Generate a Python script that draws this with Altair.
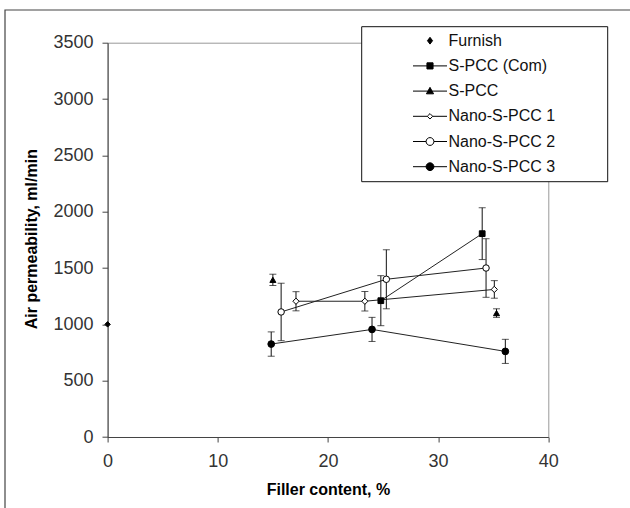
import altair as alt
import pandas as pd

# ---------------- data ----------------
series_names = ["Furnish", "S-PCC (Com)", "S-PCC", "Nano-S-PCC 1", "Nano-S-PCC 2", "Nano-S-PCC 3"]

furnish_x = [0.0]
furnish_y = [1000]
furnish_err = [0]

spcc_com_x = [24.8, 34.0]
spcc_com_y = [1210, 1805]
spcc_com_err = [222, 230]

spcc_x = [15.0, 35.3]
spcc_y = [1395, 1100]
spcc_err = [50, 38]

nano1_x = [17.1, 23.35, 35.1]
nano1_y = [1205, 1205, 1310]
nano1_err = [85, 86, 78]

nano2_x = [15.75, 25.3, 34.35]
nano2_y = [1110, 1400, 1500]
nano2_err = [255, 262, 260]

nano3_x = [14.85, 24.0, 36.1]
nano3_y = [825, 955, 760]
nano3_err = [108, 107, 107]

connected_series = ["S-PCC (Com)", "Nano-S-PCC 1", "Nano-S-PCC 2", "Nano-S-PCC 3"]

x_ticks = [0, 10, 20, 30, 40]
y_ticks = [0, 500, 1000, 1500, 2000, 2500, 3000, 3500]

# ---------------- styling ----------------
marker_shapes = ["diamond", "square", "triangle-up", "diamond", "circle", "circle"]
marker_sizes = [30, 45, 40, 30, 105, 100]
marker_fills = ["black", "black", "black", "white", "white", "black"]
marker_strokes = ["black"] * 6

legend_paths = [
    "M0,-0.2L0.15,0L0,0.2L-0.15,0Z",
    "M-1,0H1M-0.18,-0.18H0.18V0.18H-0.18Z",
    "M-1,0H1M0,-0.22L0.21,0.16H-0.21Z",
    "M-1,0H-0.16M0.16,0H1M0,-0.16L0.16,0L0,0.16L-0.16,0Z",
    "M-1,0H-0.23M0.23,0H1M0.23,0A0.23,0.23 0 1,1 -0.23,0A0.23,0.23 0 1,1 0.23,0Z",
    "M-1,0H1M0.23,0A0.23,0.23 0 1,1 -0.23,0A0.23,0.23 0 1,1 0.23,0Z",
]

FONT = "Liberation Sans"

rows = []
for name, xs, ys, es in [
    ("Furnish", furnish_x, furnish_y, furnish_err),
    ("S-PCC (Com)", spcc_com_x, spcc_com_y, spcc_com_err),
    ("S-PCC", spcc_x, spcc_y, spcc_err),
    ("Nano-S-PCC 1", nano1_x, nano1_y, nano1_err),
    ("Nano-S-PCC 2", nano2_x, nano2_y, nano2_err),
    ("Nano-S-PCC 3", nano3_x, nano3_y, nano3_err),
]:
    for x, y, e in zip(xs, ys, es):
        rows.append({"series": name, "x": x, "y": y, "lo": y - e, "hi": y + e})
df = pd.DataFrame(rows)
df_err = df[df["series"] != "Furnish"]
df_line = df[df["series"].isin(connected_series)]

x_scale = alt.Scale(domain=[0, 40], nice=False, zero=False)
y_scale = alt.Scale(domain=[0, 3500], nice=False)

x_enc = alt.X(
    "x:Q",
    scale=x_scale,
    axis=alt.Axis(
        values=x_ticks, grid=False, tickSize=5, labelPadding=10, labelFontSize=18,
        labelFont=FONT, labelColor="#333", domainColor="#444", tickColor="#444",
        title="Filler content, %", titleFont=FONT, titleFontSize=16, titleFontWeight="bold",
        titleColor="#000", titleBaseline="alphabetic", titleY=57.5, labelFlush=False,
        format="d",
    ),
)
y_enc = alt.Y(
    "y:Q",
    scale=y_scale,
    axis=alt.Axis(
        values=y_ticks, grid=False, tickSize=5.6, labelPadding=9, labelFontSize=18,
        labelFont=FONT, labelColor="#333", domainColor="#444", tickColor="#444",
        title="Air permeability, ml/min", titleFont=FONT, titleFontSize=16,
        titleFontWeight="bold", titleColor="#000", titleAngle=270,
        titleBaseline="alphabetic", titleX=-71.6, titleY=196, labelFlush=False,
        format="d",
    ),
)

one = pd.DataFrame({"a": [0]})

frame = alt.Chart(one).mark_rect(fill="transparent", stroke="#444", strokeWidth=1.2).encode(
    x=alt.value(-102.6), x2=alt.value(540), y=alt.value(-32.7), y2=alt.value(480)
)

lines = alt.Chart(df_line).mark_line(color="#222", strokeWidth=1).encode(
    x=x_enc, y=y_enc, detail="series:N", order="x:Q"
)

err_rules = alt.Chart(df_err).mark_rule(color="#111", strokeWidth=1).encode(
    x=alt.X("x:Q", scale=x_scale), y=alt.Y("lo:Q", scale=y_scale), y2="hi:Q"
)
cap_lo = alt.Chart(df_err).mark_tick(color="#111", orient="horizontal", size=7, thickness=1).encode(
    x=alt.X("x:Q", scale=x_scale), y=alt.Y("lo:Q", scale=y_scale)
)
cap_hi = alt.Chart(df_err).mark_tick(color="#111", orient="horizontal", size=7, thickness=1).encode(
    x=alt.X("x:Q", scale=x_scale), y=alt.Y("hi:Q", scale=y_scale)
)

points = alt.Chart(df).mark_point(stroke="black", strokeWidth=1, opacity=1).encode(
    x=alt.X("x:Q", scale=x_scale),
    y=alt.Y("y:Q", scale=y_scale),
    shape=alt.Shape("series:N", scale=alt.Scale(domain=series_names, range=marker_shapes), legend=None),
    fill=alt.Fill("series:N", scale=alt.Scale(domain=series_names, range=marker_fills), legend=None),
    size=alt.Size("series:N", scale=alt.Scale(domain=series_names, range=marker_sizes), legend=None),
)

legend_box = alt.Chart(one).mark_rect(fill="white", stroke="#111", strokeWidth=1).encode(
    x=alt.value(254.1), x2=alt.value(500.1), y=alt.value(-16), y2=alt.value(139)
)

leg = alt.Legend(
    title=None, orient="none", legendX=304.9, legendY=-12, padding=0,
    symbolSize=1156, symbolStrokeWidth=1, symbolStrokeColor="black", symbolOffset=0,
    symbolOpacity=1, clipHeight=20, rowPadding=5.2, labelOffset=1, labelFont=FONT,
    labelFontSize=16, labelColor="#111", labelLimit=300,
)

legend_layer = alt.Chart(df).mark_point(strokeWidth=1, opacity=1).encode(
    x=alt.X("x:Q", scale=x_scale),
    y=alt.Y("y:Q", scale=y_scale),
    shape=alt.Shape("series:N", scale=alt.Scale(domain=series_names, range=legend_paths), legend=leg),
    fill=alt.Fill("series:N", scale=alt.Scale(domain=series_names, range=marker_fills), legend=leg),
    stroke=alt.Stroke("series:N", scale=alt.Scale(domain=series_names, range=marker_strokes), legend=leg),
).transform_filter("false")

chart = (
    alt.layer(frame, lines, err_rules, cap_lo, cap_hi, points, legend_box, legend_layer)
    .resolve_scale(shape="independent", fill="independent", size="independent", stroke="independent")
    .properties(
        width=440.7, height=394.3,
        padding={"left": 107.6, "top": 42.7, "right": 81.7, "bottom": 71},
        autosize=alt.AutoSizeParams(type="none"),
        background="white",
    )
    .configure_view(stroke="#999", strokeWidth=1)
)

chart.save("out.html", embed_options={"renderer": "svg", "actions": False})
